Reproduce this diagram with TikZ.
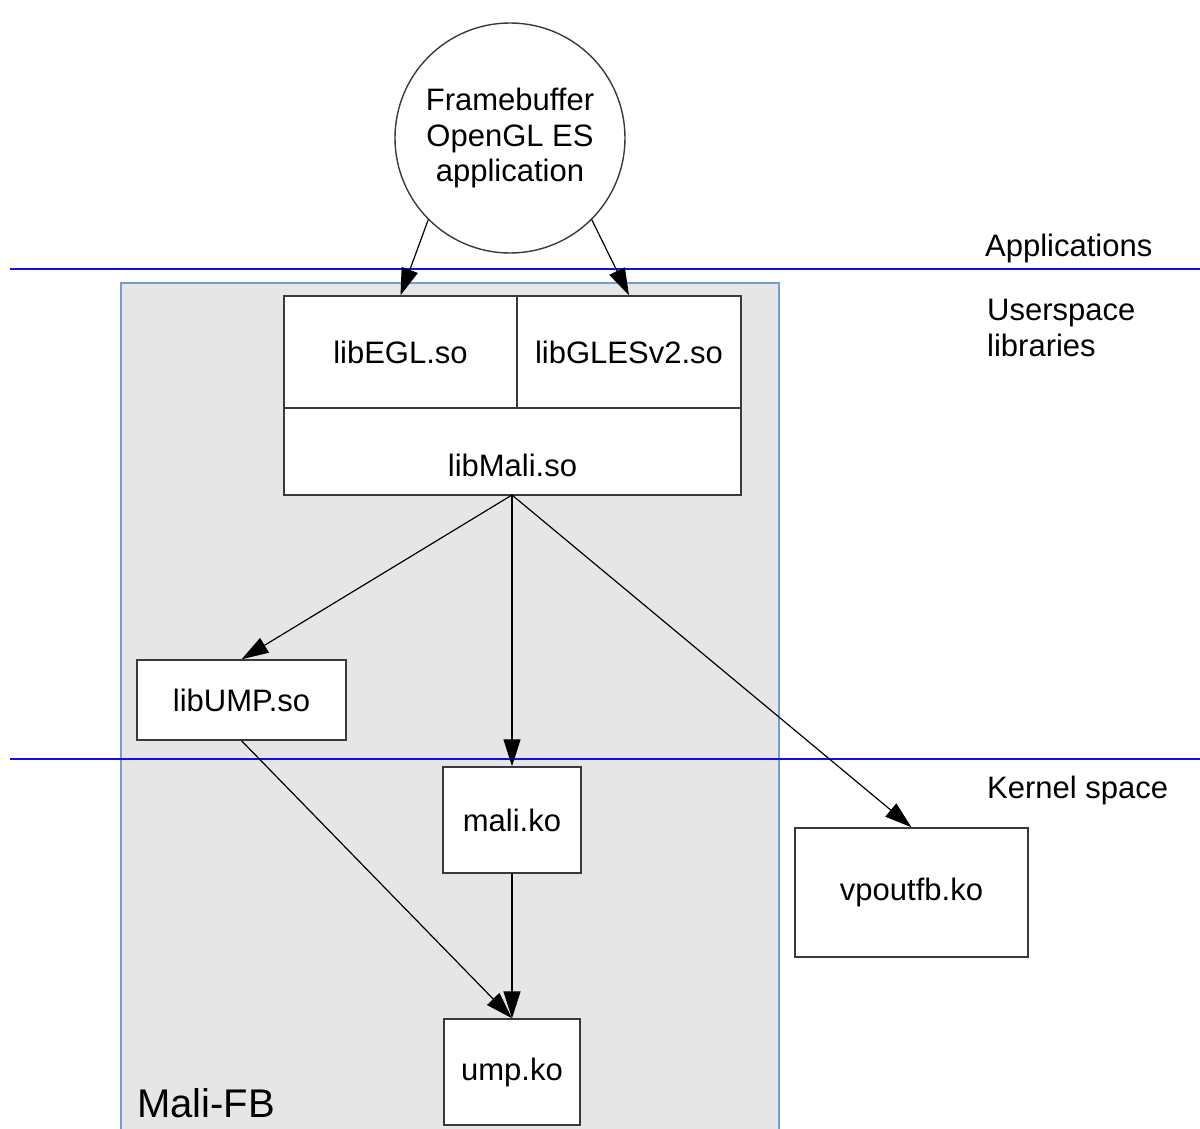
\documentclass[tikz,border=0pt]{standalone}
\usepackage{fontspec}
\setmainfont{Liberation Sans}
\usetikzlibrary{arrows.meta}
\definecolor{grpfill}{HTML}{E6E6E6}
\definecolor{grpline}{HTML}{729FCF}
\definecolor{sepblue}{HTML}{1010E0}
\definecolor{boxline}{HTML}{3A3A3A}
\tikzset{
  box/.style={draw=boxline, line width=1.4pt, fill=white, rectangle, inner sep=0pt, font=\fontsize{31}{35.5}\selectfont},
  arr/.style={line width=1.2pt, -{Triangle[length=27pt,width=17pt]}},
  sep/.style={draw=sepblue, line width=1.3pt},
  side/.style={anchor=west, align=left, inner sep=0pt, font=\fontsize{31}{35.5}\selectfont},
}
\begin{document}
\begin{tikzpicture}[x=1pt,y=-1pt]
\useasboundingbox (0,0) rectangle (1200,1129);
% group box
\draw[fill=grpfill, draw=grpline, line width=1.3pt] (121,283) rectangle (779,1145);
\node[side, font=\fontsize{40}{46}\selectfont] (malifb) at (137,1103) {Mali-FB};
% separators
\coordinate (s1a) at (10,269); \coordinate (s1b) at (1200,269);
\coordinate (s2a) at (10,759); \coordinate (s2b) at (1200,759);
\draw[sep] (s1a) -- (s1b);
\draw[sep] (s2a) -- (s2b);
% side labels
\node[side] (apps) at (985,248) {Applications};
\node[side] (usl) at (987,328) {Userspace\\libraries};
\node[side] (ks) at (987,790) {Kernel space};
% app circle
\node[draw=boxline, line width=1.4pt, fill=white, circle, minimum size=230pt, inner sep=0pt, align=center, font=\fontsize{31}{35.5}\selectfont] (app) at (510,138) {Framebuffer\\OpenGL ES\\application};
% library block
\node[box, minimum width=233pt, minimum height=112pt] (egl) at (400.5,352) {libEGL.so};
\node[box, minimum width=224pt, minimum height=112pt] (gles) at (629,352) {libGLESv2.so};
\node[box, minimum width=457pt, minimum height=87pt, label={[yshift=-14pt, font=\fontsize{31}{35.5}\selectfont]center:libMali.so}] (libmali) at (512.5,451.5) {};
\coordinate (fan) at (512,495);
\node[box, minimum width=209pt, minimum height=80pt] (libump) at (241.5,700) {libUMP.so};
\node[box, minimum width=138pt, minimum height=106pt] (malik) at (512,820) {mali.ko};
\node[box, minimum width=136pt, minimum height=106pt] (umpk) at (512,1072) {ump.ko};
\node[box, minimum width=233pt, minimum height=129pt] (vpout) at (911.5,892.5) {vpoutfb.ko};
% connectors
\draw[arr] (app.225) -- (egl.north);
\draw[arr] (app.315) -- (gles.north);
\draw[arr] (fan) -- (libump.north);
\draw[arr] (fan) -- (malik.north);
\draw[arr] (fan) -- (vpout.north);
\draw[arr] (libump.south) -- (umpk.north);
\draw[arr] (malik.south) -- (umpk.north);
\end{tikzpicture}
\end{document}
